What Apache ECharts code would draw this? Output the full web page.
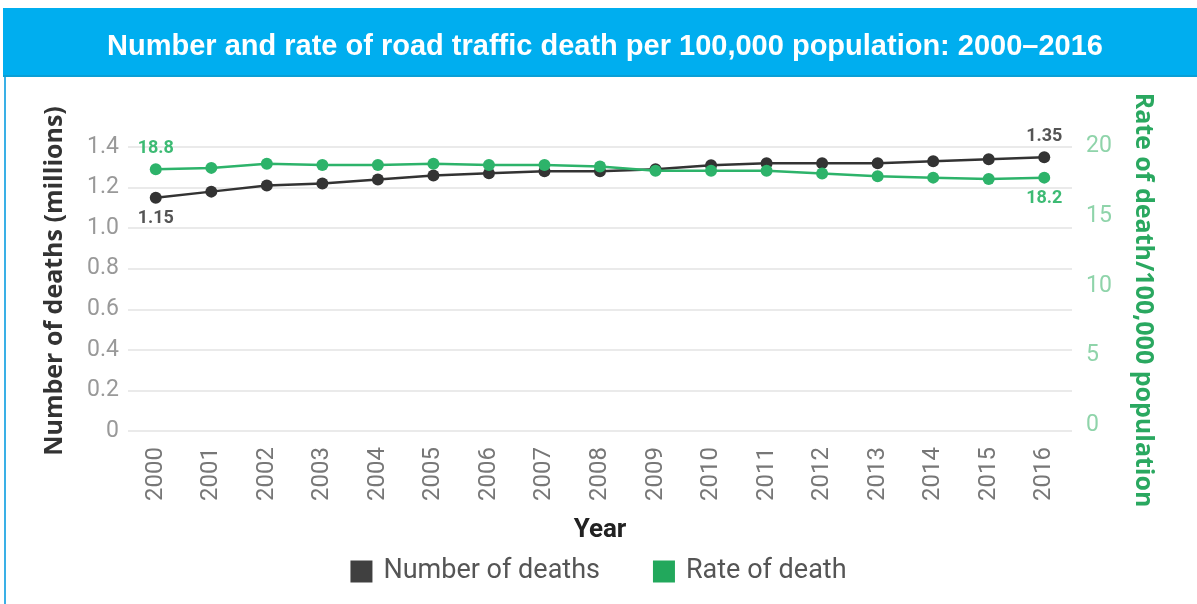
<!DOCTYPE html>
<html>
<head>
<meta charset="utf-8">
<script src="https://cdn.jsdelivr.net/npm/echarts@6/dist/echarts.min.js"></script>
<style>
  html, body { margin: 0; padding: 0; background: #fff; }
  #chart { width: 1197px; height: 604px; }
</style>
</head>
<body>
<div id="chart"></div>
<script>
// data
var years = ['2000', '2001', '2002', '2003', '2004', '2005', '2006', '2007', '2008',
             '2009', '2010', '2011', '2012', '2013', '2014', '2015', '2016'];
var deaths = [1.15, 1.18, 1.21, 1.22, 1.24, 1.26, 1.27, 1.28, 1.28,
              1.29, 1.31, 1.32, 1.32, 1.32, 1.33, 1.34, 1.35];
var rates = [18.8, 18.9, 19.2, 19.1, 19.1, 19.2, 19.1, 19.1, 19.0,
             18.7, 18.7, 18.7, 18.5, 18.3, 18.2, 18.1, 18.2];

var DARK = '#333333',
    GREEN = '#2db36a';

// only the first and last point carry a value label;
// first/last sit on opposite sides of the point
function endLabels(values, firstPos, lastPos, color, digits) {
    return values.map(function (v, i) {
        var last = i === values.length - 1;
        return {
            value: v,
            label: {
                show: i === 0 || last,
                position: last ? lastPos : firstPos,
                distance: 6,
                color: color,
                fontSize: 18,
                fontWeight: 'bold',
                fontFamily: 'Roboto',
                formatter: function (p) { return p.value.toFixed(digits); }
            }
        };
    });
}

var chart = echarts.init(document.getElementById('chart'));

chart.setOption({
    animation: false,
    backgroundColor: '#fff',
    graphic: [
        // title bar
        { type: 'rect', shape: { x: 3, y: 8, width: 1194, height: 69 }, style: { fill: '#00aeef' }, z: 0 },
        { type: 'rect', shape: { x: 3, y: 75, width: 1194, height: 2 }, style: { fill: '#0a9fd6' }, z: 0 },
        // left border
        { type: 'rect', shape: { x: 4, y: 77, width: 2, height: 527 }, style: { fill: '#3ab0e6' }, z: 0 }
    ],
    title: {
        text: 'Number and rate of road traffic death per 100,000 population: 2000\u20132016',
        left: 102,
        top: 27,
        textStyle: {
            color: '#fff',
            fontSize: 29,
            fontWeight: 'bold',
            fontFamily: 'Liberation Sans'
        }
    },
    legend: {
        bottom: 14,
        left: 'center',
        icon: 'rect',
        itemWidth: 22,
        itemHeight: 22,
        itemGap: 53,
        textStyle: { color: '#555', fontSize: 27, fontFamily: 'Roboto', padding: [0, 0, 0, 6] },
        data: [
            { name: 'Number of deaths', itemStyle: { color: '#404040' } },
            { name: 'Rate of death', itemStyle: { color: '#22a85c' } }
        ]
    },
    grid: { left: 128, right: 125, top: 147, bottom: 173 },
    xAxis: {
        type: 'category',
        data: years,
        boundaryGap: true,
        name: 'Year',
        nameLocation: 'middle',
        nameGap: 86,
        nameTextStyle: { color: '#222', fontSize: 26, fontWeight: 'bold', fontFamily: 'Roboto' },
        axisLine: { show: false },
        axisTick: { show: false },
        axisLabel: { rotate: 90, margin: 16, color: '#777', fontSize: 24, fontFamily: 'Roboto' }
    },
    yAxis: [
        {
            type: 'value',
            min: 0,
            max: 1.4,
            interval: 0.2,
            name: 'Number of deaths (millions)',
            nameLocation: 'middle',
            nameGap: 61,
            nameTextStyle: {
                color: '#333', fontSize: 25, fontWeight: 'bold', fontFamily: 'Open Sans',
                padding: [0, 0, 0, 16]
            },
            axisLine: { show: false },
            axisTick: { show: false },
            splitLine: { lineStyle: { color: '#e3e3e3', width: 1.5 } },
            axisLabel: {
                margin: 9,
                color: '#999',
                fontSize: 23,
                fontFamily: 'Roboto',
                formatter: function (v) { return v === 0 ? '0' : v.toFixed(1); }
            }
        },
        {
            type: 'value',
            min: 0,
            max: 20.4,
            interval: 5,
            position: 'right',
            name: 'Rate of death/100,000 population',
            nameLocation: 'middle',
            nameRotate: -90,
            nameGap: 59,
            nameTextStyle: {
                color: '#2aa860', fontSize: 25, fontWeight: 'bold', fontFamily: 'Open Sans',
                padding: [0, 0, 0, 22]
            },
            axisLine: { show: false },
            axisTick: { show: false },
            splitLine: { show: false },
            axisLabel: {
                margin: 14,
                color: '#8fd4aa',
                fontSize: 23,
                fontFamily: 'Roboto',
                verticalAlign: 'bottom',
                lineHeight: 12,
                showMaxLabel: false
            }
        }
    ],
    series: [
        {
            name: 'Number of deaths',
            type: 'line',
            yAxisIndex: 0,
            data: endLabels(deaths, 'bottom', 'top', '#555', 2),
            symbol: 'circle',
            symbolSize: 12,
            lineStyle: { color: DARK, width: 2.5 },
            itemStyle: { color: DARK },
            z: 3
        },
        {
            name: 'Rate of death',
            type: 'line',
            yAxisIndex: 1,
            data: endLabels(rates, 'top', 'bottom', '#3dbb74', 1),
            symbol: 'circle',
            symbolSize: 12,
            lineStyle: { color: GREEN, width: 2.5 },
            itemStyle: { color: GREEN },
            z: 4
        }
    ]
});
</script>
</body>
</html>
